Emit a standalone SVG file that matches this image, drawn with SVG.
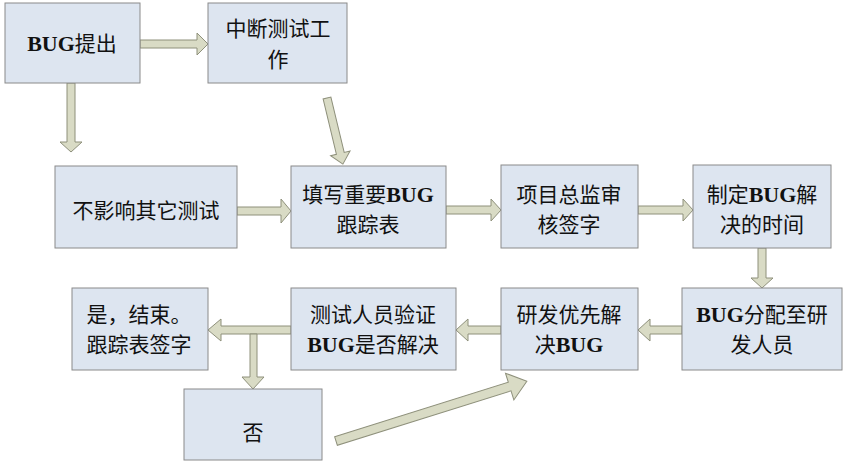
<svg xmlns="http://www.w3.org/2000/svg" width="843" height="473" viewBox="0 0 843 473">
<style>
.box{fill:#dde5f0;stroke:#8a8a8a;stroke-width:1}
.arr{fill:#d9dbc5;stroke:#8e907b;stroke-width:1;stroke-linejoin:miter}
text{font-family:"Noto Sans CJK SC","Liberation Serif",sans-serif;font-size:21px;fill:#111;text-anchor:middle}
.b{font-family:"Liberation Serif","Noto Sans CJK SC",serif;font-weight:bold;font-size:22px}
</style>
<rect width="843" height="473" fill="#fff"/>
<g id="connectors">
<polygon class="arr" points="140,40 197,40 197,33 208,44 197,55 197,48 140,48"/>
<polygon class="arr" points="67,83 75,83 75,142 82,142 71,152 60,142 67,142"/>
<g transform="translate(327,98) rotate(76.5)"><polygon class="arr" points="0,-4 57,-4 57,-10 68,0 57,10 57,4 0,4"/></g>
<polygon class="arr" points="237,207 281,207 281,199 291,211 281,223 281,215 237,215"/>
<polygon class="arr" points="446,206 491,206 491,199 501,210 491,221 491,214 446,214"/>
<polygon class="arr" points="638,206 683,206 683,199 693,210 683,221 683,214 638,214"/>
<polygon class="arr" points="758,248 766,248 766,278 773,278 762,288 751,278 758,278"/>
<polygon class="arr" points="682,326 650,326 650,319 638,330 650,341 650,334 682,334"/>
<polygon class="arr" points="501,326 468,326 468,319 456,330 468,341 468,334 501,334"/>
<polygon class="arr" points="291,326 221,326 221,319 208,330 221,341 221,334 291,334"/>
<polygon class="arr" points="250,334 257,334 257,377 264,377 253,389 242,377 250,377"/>
<g transform="translate(336,441) rotate(-17.4)"><polygon class="arr" points="0,-4.5 182,-4.5 182,-14 200,0 182,14 182,4.5 0,4.5"/></g>
</g>
<g id="n1"><rect class="box" x="5" y="3" width="135" height="80"/><text x="72" y="51"><tspan class="b">BUG</tspan>提出</text></g>
<g id="n2"><rect class="box" x="208" y="3" width="139" height="80"/><text x="278" y="36">中断测试工</text><text x="278" y="67">作</text></g>
<g id="n3"><rect class="box" x="55" y="166" width="182" height="82"/><text x="146" y="218">不影响其它测试</text></g>
<g id="n4"><rect class="box" x="291" y="166" width="155" height="82"/><text x="368" y="202">填写重要<tspan class="b">BUG</tspan></text><text x="368" y="232">跟踪表</text></g>
<g id="n5"><rect class="box" x="501" y="165" width="137" height="83"/><text x="569" y="202">项目总监审</text><text x="569" y="232">核签字</text></g>
<g id="n6"><rect class="box" x="693" y="165" width="138" height="83"/><text x="762" y="202">制定<tspan class="b">BUG</tspan>解</text><text x="762" y="232">决的时间</text></g>
<g id="n7"><rect class="box" x="682" y="288" width="160" height="82"/><text x="762" y="322"><tspan class="b">BUG</tspan>分配至研</text><text x="762" y="352">发人员</text></g>
<g id="n8"><rect class="box" x="501" y="288" width="137" height="82"/><text x="569" y="322">研发优先解</text><text x="569" y="352">决<tspan class="b">BUG</tspan></text></g>
<g id="n9"><rect class="box" x="291" y="288" width="165" height="82"/><text x="373" y="322">测试人员验证</text><text x="373" y="352"><tspan class="b">BUG</tspan>是否解决</text></g>
<g id="n10"><rect class="box" x="72" y="288" width="136" height="82"/><text x="139" y="322">是，结束。</text><text x="139" y="352">跟踪表签字</text></g>
<g id="n11"><rect class="box" x="184" y="389" width="138" height="71"/><text x="253" y="440">否</text></g>
</svg>
